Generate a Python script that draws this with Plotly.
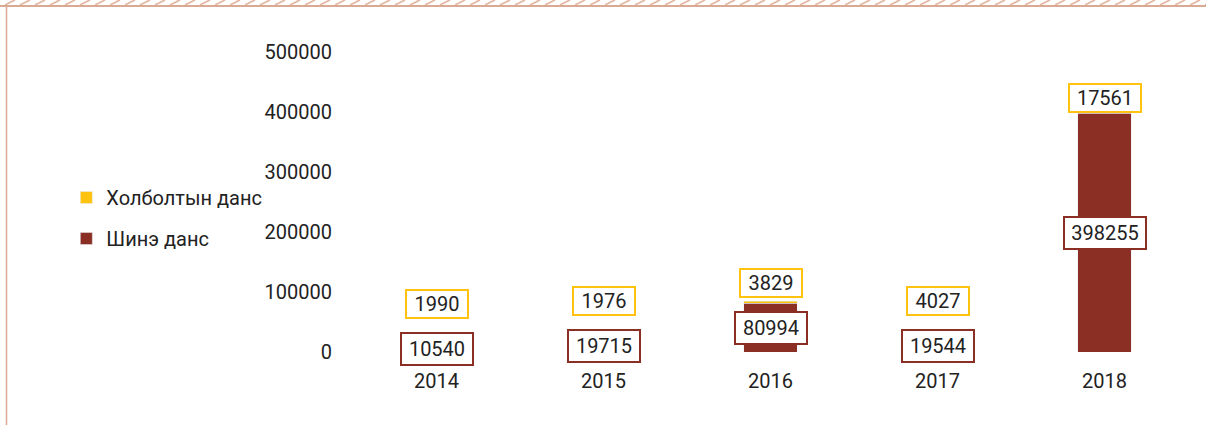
import plotly.graph_objects as go

years = ["2014", "2015", "2016", "2017", "2018"]
shine_dans = [10540, 19715, 80994, 19544, 398255]
holboltyn_dans = [1990, 1976, 3829, 4027, 17561]
y_ticks = [0, 100000, 200000, 300000, 400000, 500000]

W, H = 1206, 425
ML, MR, MT, MB = 353, 18, 52, 73
PW, PH = W - ML - MR, H - MT - MB
YMAX = 500000
K = PH / YMAX

FONT = "Roboto"
RED = "#8b2e23"
YEL = "#ffc20e"
DECO = "#d9a994"

fig = go.Figure()
fig.add_trace(go.Bar(x=years, y=shine_dans, name="Шинэ данс", marker_color=RED,
                     width=0.32, legendgroup="a", legendrank=2, hoverinfo="skip"))
fig.add_trace(go.Bar(x=years, y=holboltyn_dans, name="Холболтын данс", marker_color=YEL,
                     width=0.32, legendgroup="b", legendrank=1, hoverinfo="skip"))

for i, (s, h) in enumerate(zip(shine_dans, holboltyn_dans)):
    ts, th = str(s), str(h)
    fig.add_annotation(x=i, y=s / 2, text=ts, showarrow=False, xanchor="center", yanchor="middle",
                       bgcolor="white", bordercolor=RED, borderwidth=2, borderpad=2,
                       width=10 * len(ts) + 16, height=26,
                       font=dict(family=FONT, size=20, color="#222"))
    dark_top_px = s / 2 * K + 17
    need = dark_top_px + 13
    yshift = max(0, need - s * K)
    fig.add_annotation(x=i, y=s, text=th, showarrow=False, xanchor="center", yanchor="bottom",
                       yshift=yshift, bgcolor="white", bordercolor=YEL, borderwidth=2, borderpad=2,
                       width=10 * len(th) + 16, height=22,
                       font=dict(family=FONT, size=20, color="#222"))

def px2x(px):
    return (px - ML) / PW

def px2y(py):
    return (H - MB - py) / PH

shapes = []
for sx in range(-10, W + 10, 15):
    shapes.append(dict(type="line", xref="paper", yref="paper",
                       x0=px2x(sx), y0=px2y(5), x1=px2x(sx + 10), y1=px2y(0),
                       line=dict(color="#e3b7a3", width=1.8)))
shapes.append(dict(type="line", xref="paper", yref="paper",
                   x0=px2x(0), y0=px2y(6), x1=px2x(W), y1=px2y(6),
                   line=dict(color=DECO, width=2)))
shapes.append(dict(type="line", xref="paper", yref="paper",
                   x0=px2x(6.5), y0=px2y(6), x1=px2x(6.5), y1=px2y(H),
                   line=dict(color=DECO, width=1.5)))

fig.update_layout(
    width=W, height=H, barmode="stack",
    margin=dict(l=ML, r=MR, t=MT, b=MB, pad=0, autoexpand=False),
    paper_bgcolor="white", plot_bgcolor="white",
    font=dict(family=FONT, size=20, color="#222"),
    shapes=shapes,
    showlegend=True,
    legend=dict(xref="container", yref="container", x=0.055, y=0.487,
                xanchor="left", yanchor="middle", traceorder="grouped",
                tracegroupgap=12, font=dict(family=FONT, size=20, color="#222"),
                itemwidth=30, bgcolor="rgba(0,0,0,0)"),
    xaxis=dict(type="category", range=[-0.5, 4.5], showline=False, showgrid=False,
               zeroline=False, ticks="", automargin=False,
               tickfont=dict(family=FONT, size=20, color="#222"), ticklabelstandoff=15),
    yaxis=dict(range=[0, YMAX], tickvals=y_ticks, ticktext=[str(v) for v in y_ticks],
               showgrid=False, zeroline=False, showline=False, ticks="", automargin=False,
               tickfont=dict(family=FONT, size=20, color="#222"), ticklabelstandoff=20),
)

fig.write_html("out.html", config={"displayModeBar": False},
               post_script="document.body.style.margin='0';document.body.style.overflow='hidden';")
